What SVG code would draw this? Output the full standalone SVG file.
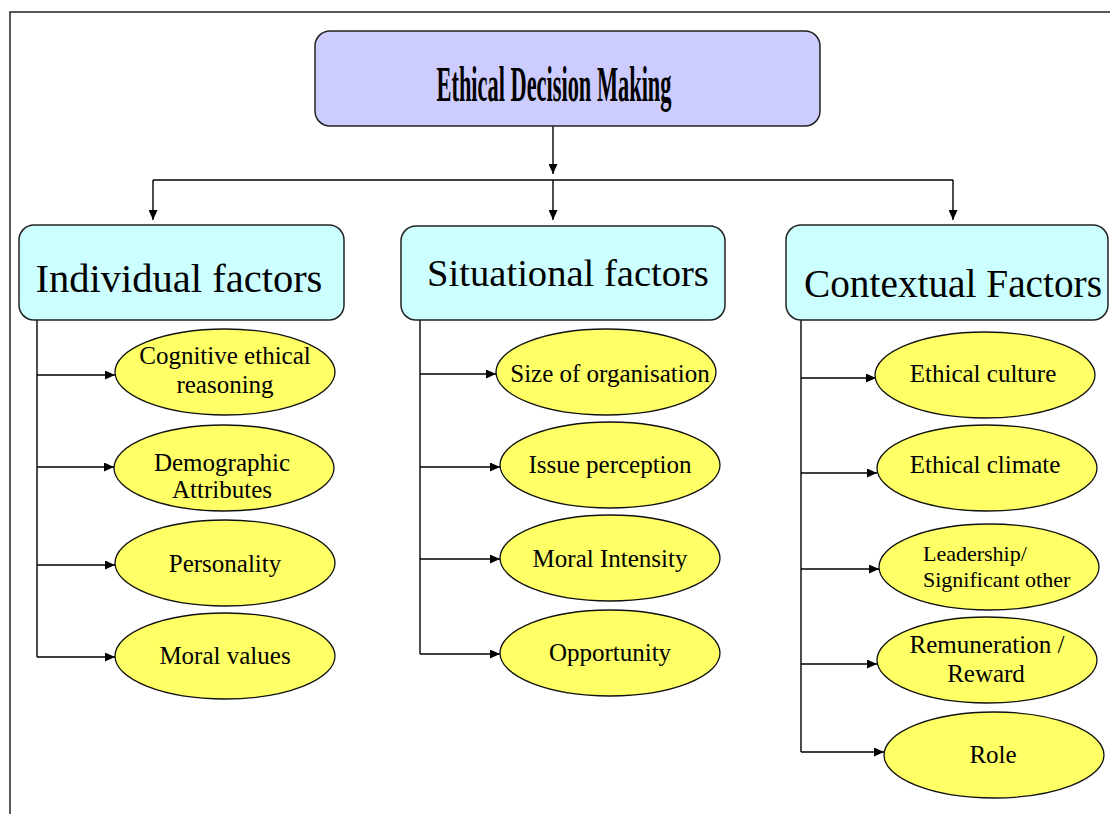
<svg xmlns="http://www.w3.org/2000/svg" width="1110" height="814" viewBox="0 0 1110 814">
<style>
.frame{fill:none;stroke:#222;stroke-width:1.5}
.top{fill:#CCCCFF;stroke:#222;stroke-width:1.5}
.cat{fill:#CCFFFF;stroke:#222;stroke-width:1.5}
.ell{fill:#FFFF66;stroke:#111;stroke-width:1.3}
.ln{fill:none;stroke:#000;stroke-width:1.4}
.t{font-family:"Liberation Serif","Times New Roman",serif;fill:#000;text-anchor:middle}
.title{font-size:50px;font-weight:bold}
.ct{font-size:39px}
.et{font-size:25px}
.es{font-size:22px}
</style>
<defs>
<marker id="ah" markerUnits="userSpaceOnUse" markerWidth="10" markerHeight="9" viewBox="0 0 10 9" refX="10" refY="4.5" orient="auto">
<path d="M0,0 L10,4.5 L0,9 z" fill="#000"/>
</marker>
</defs>
<rect class="frame" x="10" y="12" width="1115" height="820"/>

<g id="connectors">
<path class="ln" d="M553,126 V174" marker-end="url(#ah)"/>
<path class="ln" d="M153,180 H953"/>
<path class="ln" d="M153,180 V220" marker-end="url(#ah)"/>
<path class="ln" d="M553,180 V220" marker-end="url(#ah)"/>
<path class="ln" d="M953,180 V220" marker-end="url(#ah)"/>

<path class="ln" d="M37,320 V657"/>
<path class="ln" d="M37,375 H115" marker-end="url(#ah)"/>
<path class="ln" d="M37,467 H114" marker-end="url(#ah)"/>
<path class="ln" d="M37,565 H115" marker-end="url(#ah)"/>
<path class="ln" d="M37,657 H115" marker-end="url(#ah)"/>

<path class="ln" d="M420,320 V654"/>
<path class="ln" d="M420,374 H496" marker-end="url(#ah)"/>
<path class="ln" d="M420,467 H500" marker-end="url(#ah)"/>
<path class="ln" d="M420,559 H500" marker-end="url(#ah)"/>
<path class="ln" d="M420,654 H500" marker-end="url(#ah)"/>

<path class="ln" d="M801,320 V752"/>
<path class="ln" d="M801,378 H876" marker-end="url(#ah)"/>
<path class="ln" d="M801,473 H877" marker-end="url(#ah)"/>
<path class="ln" d="M801,569 H879" marker-end="url(#ah)"/>
<path class="ln" d="M801,664 H877" marker-end="url(#ah)"/>
<path class="ln" d="M801,752 H884" marker-end="url(#ah)"/>
</g>

<g id="ethical-decision-making">
<rect class="top" x="315" y="31" width="505" height="95" rx="15"/>
<text class="t title" x="554" y="101" textLength="235" lengthAdjust="spacingAndGlyphs">Ethical Decision Making</text>
</g>

<g id="individual-factors">
<rect class="cat" x="19" y="225" width="325" height="95" rx="15"/>
<text class="t ct" x="179" y="292" style="font-size:40.5px">Individual factors</text>
</g>
<g id="situational-factors">
<rect class="cat" x="401" y="226" width="324" height="94" rx="15"/>
<text class="t ct" x="568" y="286" style="font-size:38.6px">Situational factors</text>
</g>
<g id="contextual-factors">
<rect class="cat" x="786" y="225" width="322" height="95" rx="15"/>
<text class="t ct" x="953" y="297" style="font-size:39.3px">Contextual Factors</text>
</g>

<g id="cognitive-ethical-reasoning">
<ellipse class="ell" cx="225" cy="372" rx="110" ry="43"/>
<text class="t et" x="225" y="364">Cognitive ethical</text>
<text class="t et" x="225" y="393">reasoning</text>
</g>
<g id="demographic-attributes">
<ellipse class="ell" cx="224" cy="468" rx="110" ry="43"/>
<text class="t et" x="222" y="471">Demographic</text>
<text class="t et" x="222" y="498">Attributes</text>
</g>
<g id="personality">
<ellipse class="ell" cx="225" cy="563" rx="110" ry="43"/>
<text class="t et" x="225" y="572">Personality</text>
</g>
<g id="moral-values">
<ellipse class="ell" cx="225" cy="656" rx="110" ry="43"/>
<text class="t et" x="225" y="664">Moral values</text>
</g>

<g id="size-of-organisation">
<ellipse class="ell" cx="606" cy="372" rx="110" ry="43"/>
<text class="t et" x="610" y="382">Size of organisation</text>
</g>
<g id="issue-perception">
<ellipse class="ell" cx="610" cy="465" rx="110" ry="43"/>
<text class="t et" x="610" y="473">Issue perception</text>
</g>
<g id="moral-intensity">
<ellipse class="ell" cx="610" cy="558" rx="110" ry="43"/>
<text class="t et" x="610" y="567">Moral Intensity</text>
</g>
<g id="opportunity">
<ellipse class="ell" cx="610" cy="653" rx="110" ry="43"/>
<text class="t et" x="610" y="661">Opportunity</text>
</g>

<g id="ethical-culture">
<ellipse class="ell" cx="985" cy="375" rx="110" ry="43"/>
<text class="t et" x="983" y="382">Ethical culture</text>
</g>
<g id="ethical-climate">
<ellipse class="ell" cx="987" cy="468" rx="110" ry="43"/>
<text class="t et" x="985" y="473">Ethical climate</text>
</g>
<g id="leadership-significant-other">
<ellipse class="ell" cx="989" cy="567" rx="110" ry="43"/>
<text class="t es" x="923" y="561" style="text-anchor:start">Leadership/</text>
<text class="t es" x="923" y="587" style="text-anchor:start">Significant other</text>
</g>
<g id="remuneration-reward">
<ellipse class="ell" cx="987" cy="660" rx="110" ry="43"/>
<text class="t et" x="987" y="653">Remuneration /</text>
<text class="t et" x="986" y="682">Reward</text>
</g>
<g id="role">
<ellipse class="ell" cx="994" cy="755" rx="110" ry="43"/>
<text class="t et" x="993" y="763">Role</text>
</g>
</svg>
